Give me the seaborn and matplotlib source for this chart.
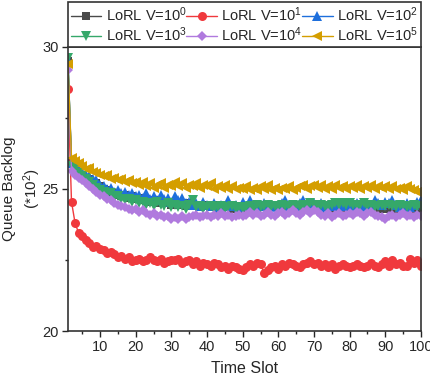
import numpy as np
import pandas as pd
import matplotlib
matplotlib.use("Agg")
import matplotlib.pyplot as plt
from matplotlib.ticker import MultipleLocator
import seaborn as sns

time_slot = list(range(1, 101))

v1e0 = [29.5, 25.9, 25.75, 25.6, 25.5, 25.4, 25.35, 25.25, 25.2, 25.1,
        25.0, 24.95, 24.9, 24.85, 24.8, 24.75, 24.8, 24.7, 24.75, 24.65,
        24.7, 24.6, 24.65, 24.55, 24.6, 24.5, 24.6, 24.5, 24.55, 24.45,
        24.5, 24.45, 24.5, 24.4, 24.5, 24.4, 24.45, 24.35, 24.45, 24.4,
        24.35, 24.45, 24.3, 24.4, 24.35, 24.45, 24.3, 24.4, 24.35, 24.3,
        24.4, 24.35, 24.45, 24.3, 24.4, 24.35, 24.3, 24.4, 24.35, 24.4,
        24.3, 24.4, 24.35, 24.45, 24.3, 24.4, 24.35, 24.3, 24.4, 24.35,
        24.4, 24.3, 24.35, 24.4, 24.3, 24.35, 24.4, 24.2, 24.3, 24.35,
        24.4, 24.3, 24.35, 24.4, 24.3, 24.35, 24.25, 24.35, 24.3, 24.35,
        24.3, 24.35, 24.25, 24.3, 24.35, 24.3, 24.25, 24.3, 24.35, 24.3]

v1e1 = [28.5, 24.55, 23.8, 23.45, 23.35, 23.2, 23.1, 22.95, 23.0, 22.9,
        22.85, 22.75, 22.8, 22.7, 22.6, 22.65, 22.55, 22.6, 22.45, 22.5,
        22.55, 22.45, 22.5, 22.6, 22.5, 22.45, 22.55, 22.4, 22.45, 22.5,
        22.5, 22.55, 22.4, 22.45, 22.5, 22.35, 22.45, 22.3, 22.4, 22.35,
        22.3, 22.4, 22.35, 22.25, 22.3, 22.2, 22.3, 22.25, 22.2, 22.15,
        22.25, 22.35, 22.3, 22.4, 22.35, 22.05, 22.15, 22.25, 22.3, 22.2,
        22.35, 22.3, 22.4, 22.35, 22.3, 22.25, 22.35, 22.4, 22.45, 22.35,
        22.4, 22.3, 22.35, 22.25, 22.35, 22.2, 22.3, 22.35, 22.3, 22.25,
        22.3, 22.35, 22.3, 22.25, 22.3, 22.4, 22.3, 22.25, 22.35, 22.45,
        22.3, 22.5, 22.35, 22.4, 22.3, 22.3, 22.55, 22.4, 22.5, 22.3]

v1e2 = [29.55, 25.9, 25.85, 25.7, 25.6, 25.5, 25.45, 25.35, 25.3, 25.15,
        25.1, 25.0, 25.05, 24.9, 24.95, 24.85, 24.9, 24.8, 24.85, 24.75,
        24.8, 24.7, 24.85, 24.65, 24.75, 24.6, 24.8, 24.65, 24.7, 24.55,
        24.75, 24.6, 24.7, 24.5, 24.55, 24.45, 24.5, 24.4, 24.55, 24.45,
        24.4, 24.5, 24.35, 24.45, 24.4, 24.6, 24.4, 24.45, 24.35, 24.55,
        24.4, 24.6, 24.35, 24.45, 24.4, 24.5, 24.35, 24.45, 24.4, 24.35,
        24.5, 24.6, 24.4, 24.45, 24.35, 24.5, 24.6, 24.4, 24.45, 24.5,
        24.4, 24.5, 24.35, 24.45, 24.4, 24.5, 24.45, 24.4, 24.5, 24.45,
        24.4, 24.5, 24.45, 24.35, 24.4, 24.45, 24.6, 24.5, 24.45, 24.55,
        24.5, 24.6, 24.45, 24.35, 24.4, 24.5, 24.35, 24.45, 24.55, 24.6]

v1e3 = [29.6, 25.8, 25.7, 25.55, 25.45, 25.35, 25.25, 25.15, 25.05, 24.95,
        24.9, 24.8, 24.85, 24.7, 24.75, 24.65, 24.6, 24.65, 24.55, 24.6,
        24.5, 24.55, 24.45, 24.5, 24.4, 24.55, 24.45, 24.4, 24.5, 24.35,
        24.45, 24.35, 24.4, 24.3, 24.45, 24.6, 24.35, 24.4, 24.3, 24.35,
        24.4, 24.3, 24.35, 24.4, 24.3, 24.35, 24.4, 24.3, 24.35, 24.3,
        24.35, 24.4, 24.3, 24.45, 24.35, 24.4, 24.45, 24.35, 24.4, 24.35,
        24.45, 24.4, 24.35, 24.45, 24.4, 24.35, 24.45, 24.4, 24.5, 24.45,
        24.4, 24.45, 24.4, 24.35, 24.45, 24.5, 24.45, 24.5, 24.45, 24.5,
        24.45, 24.4, 24.45, 24.5, 24.4, 24.45, 24.35, 24.4, 24.45, 24.4,
        24.45, 24.4, 24.35, 24.45, 24.4, 24.35, 24.4, 24.45, 24.35, 24.4]

v1e4 = [29.2, 25.65, 25.5, 25.4, 25.3, 25.2, 25.1, 25.0, 24.9, 24.8,
        24.75, 24.65, 24.6, 24.5, 24.45, 24.4, 24.35, 24.3, 24.25, 24.3,
        24.2, 24.25, 24.15, 24.1, 24.15, 24.05, 24.1, 24.0, 24.05, 23.95,
        24.0, 23.95, 24.05, 23.95, 24.0, 24.05, 24.1, 24.0, 24.05, 24.1,
        24.0, 24.1, 24.05, 24.15, 24.05, 24.1, 24.0, 24.05, 24.1, 24.05,
        24.1, 24.2, 24.1, 24.15, 24.05, 24.1, 24.2, 24.1, 24.05, 24.15,
        24.2, 24.1, 24.15, 24.25, 24.15, 24.1, 24.2, 24.25, 24.15, 24.25,
        24.2, 24.1, 24.05, 24.15, 24.0, 24.1, 24.15, 24.05, 24.1, 24.15,
        24.1, 24.2, 24.15, 24.05, 24.15, 24.2, 24.1, 24.05, 24.0, 23.95,
        24.05, 24.1, 24.0, 24.1, 24.15, 24.05, 24.1, 24.0, 24.1, 24.05]

v1e5 = [29.4, 26.1, 26.0, 25.9, 25.8, 25.7, 25.75, 25.6, 25.55, 25.5,
        25.45, 25.5, 25.35, 25.4, 25.3, 25.35, 25.25, 25.3, 25.2, 25.25,
        25.15, 25.25, 25.1, 25.2, 25.05, 25.15, 25.2, 25.05, 25.15, 25.1,
        25.25, 25.1, 25.2, 25.05, 25.15, 25.1, 25.2, 25.05, 25.15, 25.1,
        25.2, 25.0, 25.1, 25.05, 25.15, 25.0, 25.1, 25.0, 25.05, 25.0,
        25.1, 24.95, 25.05, 24.95, 25.1, 25.0, 25.15, 24.95, 25.05, 24.95,
        25.05, 25.0, 25.1, 24.95, 25.05, 25.1, 25.15, 25.0, 25.1, 25.15,
        25.05, 25.15, 25.0, 25.1, 25.0, 25.15, 25.05, 25.1, 25.0, 25.1,
        25.05, 25.15, 25.0, 25.1, 25.05, 25.15, 25.0, 25.1, 25.05, 25.1,
        25.0, 25.1, 25.0, 25.05, 24.95, 25.1, 25.0, 24.95, 24.9, 24.95]

labels = ["LoRL V=$10^0$", "LoRL V=$10^1$", "LoRL V=$10^2$",
          "LoRL V=$10^3$", "LoRL V=$10^4$", "LoRL V=$10^5$"]
series = [v1e0, v1e1, v1e2, v1e3, v1e4, v1e5]
colors = ["#4a4a4a", "#f0393d", "#1e6fdc", "#35a86a", "#b07ade", "#d49e00"]
markers = ["s", "o", "^", "v", "D", "<"]
msizes = [5.5, 6.5, 6.5, 6.5, 5, 6.5]

sns.set_style("ticks")
plt.rcParams["font.family"] = ["Liberation Sans", "DejaVu Sans"]
plt.rcParams["mathtext.fontset"] = "custom"
plt.rcParams["mathtext.rm"] = "Liberation Sans"
plt.rcParams["mathtext.it"] = "Liberation Sans:italic"
plt.rcParams["mathtext.bf"] = "Liberation Sans:bold"

fig = plt.figure(figsize=(4.3, 3.81), dpi=100)
ax = fig.add_axes([0.158, 0.131, 0.821, 0.746])

for y, lab, c, m, ms in zip(series, labels, colors, markers, msizes):
    df = pd.DataFrame({"t": time_slot, "v": y})
    sns.lineplot(data=df, x="t", y="v", ax=ax, color=c, marker=m,
                 markersize=ms, markeredgewidth=0, linewidth=1,
                 label=lab, legend=False)

ax.set_xlim(1, 100)
ax.set_ylim(20, 30)
ax.xaxis.set_major_locator(MultipleLocator(10))
ax.xaxis.set_minor_locator(MultipleLocator(5))
ax.yaxis.set_major_locator(MultipleLocator(5))
ax.yaxis.set_minor_locator(MultipleLocator(2.5))
ax.tick_params(which="major", length=4, width=1, labelsize=10.5,
               direction="out", pad=2.5)
ax.tick_params(which="minor", length=2.5, width=1, direction="out")
for s in ax.spines.values():
    s.set_visible(True)
    s.set_color("#333333")
    s.set_linewidth(1.2)

ax.set_xlabel("Time Slot", fontsize=11.5, labelpad=5)
ax.set_ylabel("Queue Backlog\n(*10$^2$)", fontsize=11, linespacing=1.3)
ax.yaxis.set_label_coords(-0.072, 0.5)

# row-major legend order: matplotlib fills columns first
handles, labs = ax.get_legend_handles_labels()
order = [0, 3, 1, 4, 2, 5]
leg = ax.legend([handles[i] for i in order], [labs[i] for i in order],
                loc="lower left", bbox_to_anchor=(0, 1.0, 1, 0.15),
                mode="expand", ncol=3, fontsize=10.5, frameon=True,
                fancybox=False, framealpha=1, edgecolor="#333333",
                borderaxespad=0, handlelength=2.1, handletextpad=0.3,
                columnspacing=0.6, labelspacing=0.1, borderpad=0.2)
leg.get_frame().set_linewidth(1.2)

fig.savefig("out.png", dpi=100)
